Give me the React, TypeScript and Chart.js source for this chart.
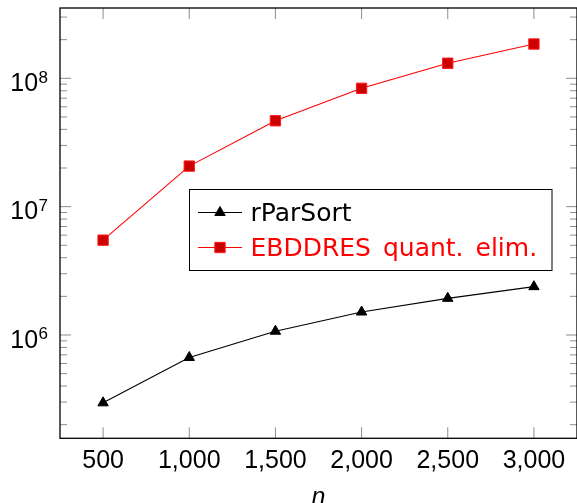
import React, { useEffect, useRef } from 'react';
import { Chart, registerables } from 'chart.js';

Chart.register(...registerables);

// ---- data ----
const nValues = [500, 1000, 1500, 2000, 2500, 3000];
const rParSortValues = [2.96e5, 6.68e5, 1.07e6, 1.51e6, 1.93e6, 2.38e6];
const ebddresValues = [5.48e6, 2.07e7, 4.67e7, 8.36e7, 1.31e8, 1.85e8];
const seriesNames = ['rParSort', 'EBDDRES quant. elim.'];
const xTickValues = [500, 1000, 1500, 2000, 2500, 3000];
const xTickLabels = ['500', '1,000', '1,500', '2,000', '2,500', '3,000'];
const yDecadeExponents = [6, 7, 8];
const xAxisTitle = 'n';

const CANVAS_W = 577;
const CANVAS_H = 503;

const overlayPlugin = {
  id: 'pgfOverlay',
  beforeDatasetsDraw(chart: any) {
    const { ctx, chartArea: a, scales } = chart;
    const xs = scales.x;
    const ys = scales.y;
    const seg = (x1: number, y1: number, x2: number, y2: number) => {
      ctx.beginPath();
      ctx.moveTo(x1, y1);
      ctx.lineTo(x2, y2);
      ctx.stroke();
    };
    ctx.save();
    ctx.strokeStyle = 'rgba(0,0,0,0.45)';
    ctx.lineWidth = 1;
    const eMin = Math.floor(Math.log10(ys.min));
    const eMax = Math.ceil(Math.log10(ys.max));
    for (let e = eMin; e <= eMax; e++) {
      for (let m = 1; m <= 9; m++) {
        const v = m * Math.pow(10, e);
        if (v < ys.min || v > ys.max) continue;
        const py = ys.getPixelForValue(v);
        const len = m === 1 ? 11 : 7;
        seg(a.left, py, a.left + len, py);
        seg(a.right - len, py, a.right, py);
      }
    }
    xTickValues.forEach((v) => {
      const px = xs.getPixelForValue(v);
      seg(px, a.bottom, px, a.bottom - 11);
      seg(px, a.top, px, a.top + 11);
    });
    ctx.restore();
  },
  afterDatasetsDraw(chart: any) {
    const { ctx, chartArea: a, scales } = chart;
    const xs = scales.x;
    const ys = scales.y;
    ctx.save();
    // frame
    ctx.strokeStyle = '#000';
    ctx.lineWidth = 1.3;
    ctx.strokeRect(a.left, a.top, a.right - a.left, a.bottom - a.top);

    // y labels 10^k
    ctx.fillStyle = '#000';
    ctx.textAlign = 'right';
    ctx.textBaseline = 'alphabetic';
    const labelRight = a.left - 12;
    yDecadeExponents.forEach((e) => {
      const py = ys.getPixelForValue(Math.pow(10, e));
      ctx.font = '17px "Liberation Sans"';
      const sup = String(e);
      const supW = ctx.measureText(sup).width;
      ctx.fillText(sup, labelRight, py + 4.3);
      ctx.font = '25px "Liberation Sans"';
      ctx.fillText('10', labelRight - supW - 0.5, py + 12.7);
    });

    // x labels
    ctx.textAlign = 'center';
    ctx.font = '25px "Liberation Sans"';
    xTickValues.forEach((v, i) => {
      const px = xs.getPixelForValue(v);
      ctx.fillText(xTickLabels[i], px, a.bottom + 29.7);
    });

    // x title
    ctx.font = 'italic 25px "Liberation Sans"';
    ctx.fillText(xAxisTitle, (a.left + a.right) / 2, a.bottom + 66.5);

    // legend
    const bx = a.left + 129.5;
    const by = a.top + 181.5;
    const bw = 362.5;
    const bh = 81;
    ctx.fillStyle = '#fff';
    ctx.fillRect(bx, by, bw, bh);
    ctx.strokeStyle = '#000';
    ctx.lineWidth = 1;
    ctx.strokeRect(bx, by, bw, bh);

    const rows = [by + 23, by + 58];
    chart.data.datasets.forEach((ds: any, i: number) => {
      const ry = rows[i];
      const lx1 = bx + 8.5;
      const lx2 = bx + 52.5;
      const mx = (lx1 + lx2) / 2;
      ctx.strokeStyle = ds.borderColor;
      ctx.lineWidth = ds.borderWidth;
      ctx.beginPath();
      ctx.moveTo(lx1, ry);
      ctx.lineTo(lx2, ry);
      ctx.stroke();
      ctx.fillStyle = ds.pointBackgroundColor;
      ctx.strokeStyle = ds.pointBorderColor;
      ctx.lineWidth = ds.pointBorderWidth;
      ctx.beginPath();
      if (ds.pointStyle === 'triangle') {
        const r = ds.pointRadius;
        for (let k = 0; k < 3; k++) {
          const ang = (k * 2 * Math.PI) / 3;
          const px = mx + Math.sin(ang) * r;
          const py = ry - Math.cos(ang) * r;
          if (k === 0) ctx.moveTo(px, py);
          else ctx.lineTo(px, py);
        }
        ctx.closePath();
      } else {
        const s = Math.SQRT1_2 * ds.pointRadius;
        ctx.rect(mx - s, ry - s, 2 * s, 2 * s);
      }
      ctx.fill();
      ctx.stroke();
      ctx.fillStyle = ds.legendTextColor;
      ctx.font = '25px "DejaVu Sans"';
      ctx.textAlign = 'left';
      (ctx as any).wordSpacing = '4px';
      ctx.fillText(ds.label, bx + 61, ry + 8.7);
      (ctx as any).wordSpacing = '0px';
    });
    ctx.restore();
  },
};

export default function App() {
  const canvasRef = useRef<HTMLCanvasElement | null>(null);

  useEffect(() => {
    if (!canvasRef.current) return;
    const chart = new Chart(canvasRef.current, {
      type: 'line',
      data: {
        datasets: [
          {
            label: seriesNames[0],
            data: nValues.map((n, i) => ({ x: n, y: rParSortValues[i] })),
            borderColor: '#000000',
            borderWidth: 1.1,
            pointStyle: 'triangle',
            pointRadius: 6,
            pointBackgroundColor: '#000000',
            pointBorderColor: '#000000',
            pointBorderWidth: 1,
            legendTextColor: '#000000',
          } as any,
          {
            label: seriesNames[1],
            data: nValues.map((n, i) => ({ x: n, y: ebddresValues[i] })),
            borderColor: '#ff0000',
            borderWidth: 1.1,
            pointStyle: 'rect',
            pointRadius: 7.3,
            pointBackgroundColor: '#cc0000',
            pointBorderColor: '#ff1a1a',
            pointBorderWidth: 1,
            legendTextColor: '#ff0000',
          } as any,
        ],
      },
      options: {
        responsive: false,
        animation: false,
        events: [],
        layout: {
          autoPadding: false,
          padding: { left: 60, top: 8, right: CANVAS_W - 578.4, bottom: CANVAS_H - 438.3 },
        },
        elements: { line: { tension: 0 } },
        plugins: {
          legend: { display: false },
          tooltip: { enabled: false },
        },
        scales: {
          x: { type: 'linear', min: 250, max: 3250, display: false },
          y: { type: 'logarithmic', min: 1.567e5, max: 3.53e8, display: false },
        },
      },
      plugins: [overlayPlugin],
    });
    return () => chart.destroy();
  }, []);

  return (
    <div
      style={{
        position: 'absolute',
        left: 0,
        top: 0,
        width: CANVAS_W,
        height: CANVAS_H,
        overflow: 'hidden',
        background: '#fff',
      }}
    >
      <canvas ref={canvasRef} width={CANVAS_W} height={CANVAS_H} style={{ display: 'block' }} />
    </div>
  );
}
